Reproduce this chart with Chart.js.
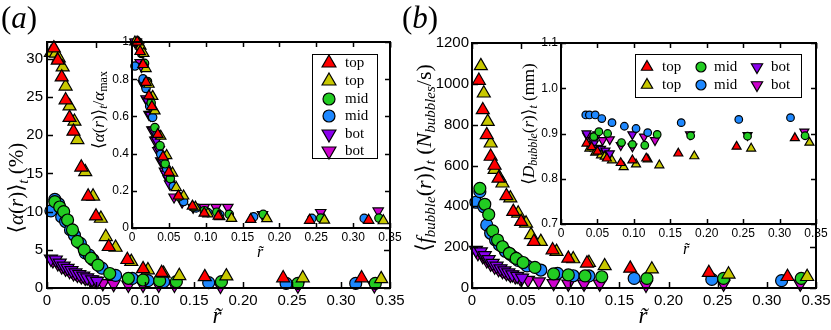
<!DOCTYPE html>
<html lang="en">
<head>
<meta charset="UTF-8">
<title>Void fraction and bubble frequency profiles</title>
<script src="https://cdn.jsdelivr.net/npm/chart.js@4"></script>
<style>
    body { margin: 0; background: #fff; }
    #wrap { position: relative; width: 831px; height: 330px; overflow: hidden; }
    canvas { position: absolute; }
</style>
</head>
<body>
<div id="wrap">
    <canvas id="mainA" width="410" height="330" style="left:0px;top:0px"></canvas>
    <canvas id="insetA" width="315" height="240" style="left:88px;top:30px"></canvas>
    <canvas id="mainB" width="436" height="330" style="left:395px;top:0px"></canvas>
    <canvas id="insetB" width="315" height="240" style="left:515px;top:30px"></canvas>
    <canvas id="overlay" width="831" height="330" style="left:0px;top:0px"></canvas>
</div>
<script>
// r~ positions and values, one set per series
const redX = [0.007, 0.011, 0.015, 0.019, 0.023, 0.027, 0.035, 0.042, 0.050, 0.063, 0.082, 0.098, 0.117, 0.161, 0.241, 0.321];
const redAlpha = [31.4, 29.8, 27.6, 24.6, 22.3, 20.5, 15.8, 12.0, 9.4, 5.4, 3.7, 2.5, 2.0, 1.45, 1.3, 1.3];
const redFreq = [1016, 872, 750, 644, 600, 537, 451, 374, 325, 227, 186, 145, 121, 96, 75, 55];

const oliveX = [0.004, 0.009, 0.012, 0.016, 0.019, 0.023, 0.028, 0.031, 0.039, 0.047, 0.055, 0.060, 0.070, 0.086, 0.103, 0.119, 0.135, 0.183, 0.261, 0.341];
const oliveAlpha = [30.8, 30.7, 30.1, 28.9, 26.4, 23.8, 21.8, 19.4, 15.2, 12.0, 9.1, 6.7, 5.3, 3.45, 2.35, 1.9, 1.6, 1.55, 1.3, 1.2];
const oliveFreq = [null, 1088, 954, 815, 709, 580, 540, 513, 440, 366, 317, 260, 227, 178, 142, 124, 108, 92, 67, 55];

const greenX = [0.008, 0.013, 0.017, 0.021, 0.026, 0.031, 0.038, 0.045, 0.052, 0.064, 0.083, 0.098, 0.115, 0.132, 0.178, 0.256, 0.335];
const greenAlpha = [11.3, 10.6, 10.0, 8.9, 7.6, 6.1, 5.0, 3.9, 3.0, 1.9, 1.27, 1.05, 0.96, 0.83, 0.83, 0.6, 0.6];
const greenFreq = [488, 410, 360, 280, 235, 202, 170, 145, 125, 101, 69, 64, 59, 55, 47, 47, 47];

const blueX = [0.004, 0.008, 0.012, 0.015, 0.019, 0.024, 0.028, 0.034, 0.039, 0.043, 0.047, 0.056, 0.070, 0.087, 0.103, 0.119, 0.165, 0.244, 0.315];
const blueAlpha = [10.1, 11.6, 11.0, 9.3, 8.7, 7.6, 6.9, 5.85, 4.6, 4.3, 3.7, 2.6, 1.65, 1.25, 0.96, 0.83, 0.7, 0.6, 0.6];
const blueFreq = [420, 472, 398, 309, 268, 235, 211, 180, 165, 150, 135, 108, 88, 72, 60, 59, 47, 42, 36];

const purpleX = [0.004, 0.009, 0.013, 0.017, 0.021, 0.025, 0.029, 0.033, 0.037, 0.041, 0.046, 0.051];
const purpleAlpha = [3.8, 3.7, 3.3, 2.9, 2.6, 2.3, 2.0, 1.8, 1.6, 1.35, 1.1, 0.9];
const purpleFreq = [186, 178, 160, 140, 122, 108, 95, 85, 75, 66, 58, 50];

const magentaX = [0.006, 0.011, 0.015, 0.019, 0.023, 0.027, 0.031, 0.035, 0.039, 0.044, 0.049, 0.057, 0.068, 0.083, 0.098, 0.114, 0.130, 0.177, 0.256, 0.334];
const magentaAlpha = [3.6, 3.2, 2.8, 2.5, 2.2, 1.9, 1.7, 1.5, 1.3, 1.1, 0.95, 0.6, 0.5, 0.4, 0.4, 0.4, 0.4, 0.26, 0.3, 0.33];
const magentaFreq = [170, 155, 135, 118, 104, 92, 82, 72, 64, 56, 48, 39, 31, 23, 20, 20, 20, 15, 20, 20];

// bubble diameter (inset b), only the outer points are shown there
const redDX = [0.035, 0.042, 0.050, 0.063, 0.082, 0.098, 0.117, 0.161, 0.241, 0.321];
const redD = [0.878, 0.870, 0.860, 0.845, 0.835, 0.841, 0.845, 0.856, 0.871, 0.890];
const oliveDX = [0.039, 0.047, 0.055, 0.060, 0.070, 0.086, 0.103, 0.119, 0.135, 0.183, 0.261, 0.341];
const oliveD = [0.867, 0.858, 0.852, 0.849, 0.841, 0.826, 0.832, 0.843, 0.830, 0.850, 0.867, 0.880];
const greenDX = [0.045, 0.052, 0.064, 0.083, 0.098, 0.115, 0.132, 0.178, 0.256, 0.335];
const greenD = [0.893, 0.904, 0.900, 0.880, 0.876, 0.874, 0.898, 0.895, 0.894, 0.895];
const blueDX = [0.034, 0.039, 0.047, 0.056, 0.070, 0.087, 0.103, 0.119, 0.165, 0.244, 0.315];
const blueD = [0.941, 0.941, 0.941, 0.933, 0.924, 0.916, 0.911, 0.902, 0.924, 0.931, 0.935];
const purpleDX = [0.035, 0.040, 0.045, 0.050, 0.055, 0.061, 0.067, 0.098];
const purpleD = [0.900, 0.872, 0.878, 0.868, 0.866, 0.862, 0.856, 0.898];
const magentaDX = [0.036, 0.044, 0.050, 0.057, 0.067, 0.082, 0.098, 0.114, 0.129, 0.177, 0.256, 0.334];
const magentaD = [0.895, 0.885, 0.898, 0.885, 0.887, 0.874, 0.871, 0.893, 0.885, 0.898, 0.896, 0.904];

const seriesNames = ['top', 'top', 'mid', 'mid', 'bot', 'bot'];

const xTicks = [0, 0.05, 0.1, 0.15, 0.2, 0.25, 0.3, 0.35];
const xTickLabels = ['0', '0.05', '0.10', '0.15', '0.20', '0.25', '0.30', '0.35'];
const alphaTicks = [0, 5, 10, 15, 20, 25, 30];
const alphaTickLabels = ['0', '5', '10', '15', '20', '25', '30'];
const normTicks = [0, 0.2, 0.4, 0.6, 0.8, 1];
const normTickLabels = ['0', '0.2', '0.4', '0.6', '0.8', '1'];
const freqTicks = [0, 200, 400, 600, 800, 1000, 1200];
const freqTickLabels = ['0', '200', '400', '600', '800', '1000', '1200'];
const diamTicks = [0.7, 0.8, 0.9, 1.0, 1.1];
const diamTickLabels = ['0.7', '0.8', '0.9', '1.0', '1.1'];

// styles
const styles = [
    { color: '#ff0000', shape: 'up' },
    { color: '#c8c800', shape: 'up' },
    { color: '#22cc22', shape: 'circle' },
    { color: '#1e88ff', shape: 'circle' },
    { color: '#8a00ee', shape: 'down' },
    { color: '#cc00cc', shape: 'down' }
];
const SANS = "'Liberation Sans', Arial, sans-serif";
const SERIF = "'Liberation Serif', 'DejaVu Serif', serif";

function pts(xs, ys) {
    return xs.map((x, i) => ({ x: x, y: ys[i] }));
}
function norm(ys) {
    const m = Math.max(...ys.filter(v => v != null));
    return ys.map(v => v / m);
}
function makeDatasets(list, circR, triR) {
    return list.map((d, i) => {
        const s = styles[i];
        return {
            label: seriesNames[i],
            data: pts(d[0], d[1]),
            showLine: false,
            clip: false,
            pointStyle: s.shape === 'circle' ? 'circle' : 'triangle',
            pointRotation: s.shape === 'down' ? 180 : 0,
            pointRadius: s.shape === 'circle' ? circR : triR,
            pointHoverRadius: s.shape === 'circle' ? circR : triR,
            pointBackgroundColor: s.color,
            pointBorderColor: '#000',
            pointBorderWidth: 1.2
        };
    });
}

// tick labels are painted on the overlay, the axis only fixes the layout
function axis(kind, min, max, ticks, size) {
    return {
        type: 'linear',
        min: min,
        max: max,
        grid: { display: false },
        border: { display: false },
        afterBuildTicks: a => { a.ticks = ticks.map(v => ({ value: v, label: '' })); },
        afterFit: a => { if (kind === 'x') a.height = size; else a.width = size; },
        ticks: { display: false, autoSkip: false }
    };
}

// rich text: parts are [text, kind]; kind r = roman, i = italic, s* = subscript
function drawRich(ctx, parts, cx, cy, size, rot) {
    const fontOf = k => (k.indexOf('i') >= 0 ? 'italic ' : '') + (k[0] === 's' ? Math.round(size * 0.7) : size) + 'px ' + SERIF;
    ctx.save();
    let total = 0;
    const widths = parts.map(p => {
        ctx.font = fontOf(p[1]);
        const w = ctx.measureText(p[0]).width;
        total += w;
        return w;
    });
    ctx.translate(cx, cy);
    ctx.rotate(rot);
    ctx.fillStyle = '#000';
    ctx.textBaseline = 'alphabetic';
    ctx.textAlign = 'left';
    let x = -total / 2;
    parts.forEach((p, i) => {
        ctx.font = fontOf(p[1]);
        ctx.fillText(p[0], x, p[1][0] === 's' ? size * 0.55 : size * 0.35);
        x += widths[i];
    });
    ctx.restore();
}

function marker(ctx, shape, x, y, r, color) {
    ctx.beginPath();
    if (shape === 'circle') {
        ctx.arc(x, y, r, 0, Math.PI * 2);
    } else {
        const s = shape === 'up' ? 1 : -1;
        for (let k = 0; k < 3; k++) {
            const a = k * 2 * Math.PI / 3;
            const px = x + Math.sin(a) * r, py = y - s * Math.cos(a) * r;
            if (k) ctx.lineTo(px, py); else ctx.moveTo(px, py);
        }
        ctx.closePath();
    }
    ctx.fillStyle = color;
    ctx.fill();
    ctx.lineWidth = 1.2;
    ctx.strokeStyle = '#000';
    ctx.stroke();
}

const tiltR = [['r\u0303', 'i']];
const decor = {
    mainA: {
        off: [0, 0], tick: 6, lw: 2, font: 15, xl: [xTicks, xTickLabels, 5], yl: [alphaTicks, alphaTickLabels, 4],
        titles: [
            { parts: [['\u27e8', 'r'], ['\u03b1', 'i'], ['(', 'r'], ['r', 'i'], [')\u27e9', 'r'], ['t', 'si'], [' (%)', 'r']], x: 16, y: 188, size: 21, rot: -Math.PI / 2 },
            { parts: tiltR, x: 217, y: 315, size: 23, rot: 0 },
            { parts: [['(', 'r'], ['a', 'i'], [')', 'r']], x: 19, y: 17, size: 31, rot: 0 }
        ]
    },
    insetA: {
        off: [88, 30], tick: 5, lw: 2, fill: true, font: 12, xl: [xTicks, xTickLabels, 4], yl: [normTicks, normTickLabels, 3],
        titles: [
            { parts: [['\u27e8', 'r'], ['\u03b1', 'i'], ['(', 'r'], ['r', 'i'], [')\u27e9', 'r'], ['t', 'si'], ['/', 'r'], ['\u03b1', 'i'], ['max', 'sr']], x: 98, y: 110, size: 17, rot: -Math.PI / 2 },
            { parts: tiltR, x: 260, y: 251, size: 16, rot: 0 }
        ],
        legend: { box: [312, 54, 65, 104], mx: [329], tx: [345], rows: [63, 81, 99, 116, 134, 151], cols: 1, circR: 6, triR: 8 }
    },
    mainB: {
        off: [395, 0], tick: 6, lw: 2, font: 15, xl: [xTicks, xTickLabels, 5], yl: [freqTicks, freqTickLabels, 3],
        titles: [
            { parts: [['\u27e8', 'r'], ['f', 'i'], ['bubble', 'si'], ['(', 'r'], ['r', 'i'], [')\u27e9', 'r'], ['t', 'si'], [' (', 'r'], ['N', 'i'], ['bubbles', 'si'], ['/s)', 'r']], x: 423, y: 158, size: 22, rot: -Math.PI / 2 },
            { parts: tiltR, x: 643, y: 315, size: 23, rot: 0 },
            { parts: [['(', 'r'], ['b', 'i'], [')', 'r']], x: 420, y: 17, size: 31, rot: 0 }
        ]
    },
    insetB: {
        off: [515, 30], tick: 5, lw: 2, fill: true, font: 12, xl: [xTicks, xTickLabels, 4], yl: [diamTicks, diamTickLabels, 3],
        titles: [
            { parts: [['\u27e8', 'r'], ['D', 'i'], ['bubble', 'si'], ['(', 'r'], ['r', 'i'], [')\u27e9', 'r'], ['t', 'si'], [' (mm)', 'r']], x: 528, y: 124, size: 17, rot: -Math.PI / 2 },
            { parts: tiltR, x: 686, y: 248, size: 16, rot: 0 }
        ],
        legend: { box: [635, 54, 166, 43], mx: [647, 701, 757], tx: [662, 714, 771], rows: [67, 85], cols: 3, circR: 5, triR: 6.5 }
    }
};

// white axes background for the insets, inward ticks and frame for every axes
const deco = {
    id: 'deco',
    beforeDraw(chart) {
        const c = decor[chart.canvas.id];
        if (!c.fill) return;
        const a = chart.chartArea, ctx = chart.ctx;
        ctx.save();
        ctx.fillStyle = '#fff';
        ctx.fillRect(a.left, a.top, a.right - a.left, a.bottom - a.top);
        ctx.restore();
    },
    afterDraw(chart) {
        const c = decor[chart.canvas.id];
        const a = chart.chartArea, ctx = chart.ctx;
        const xs = chart.scales.x, ys = chart.scales.y;
        ctx.save();
        ctx.strokeStyle = '#000';
        ctx.lineWidth = 1.5;
        ctx.beginPath();
        c.xl[0].forEach(v => {
            const p = Math.round(xs.getPixelForValue(v)) + 0.5;
            ctx.moveTo(p, a.bottom); ctx.lineTo(p, a.bottom - c.tick);
            ctx.moveTo(p, a.top); ctx.lineTo(p, a.top + c.tick);
        });
        c.yl[0].forEach(v => {
            const p = Math.round(ys.getPixelForValue(v)) + 0.5;
            ctx.moveTo(a.left, p); ctx.lineTo(a.left + c.tick, p);
            ctx.moveTo(a.right, p); ctx.lineTo(a.right - c.tick, p);
        });
        ctx.stroke();
        ctx.lineWidth = c.lw;
        ctx.strokeRect(a.left, a.top, a.right - a.left, a.bottom - a.top);
        ctx.restore();
    }
};

function makeChart(id, datasets, xAxis, yAxis, pad) {
    return new Chart(document.getElementById(id), {
        type: 'scatter',
        data: { datasets: datasets },
        options: {
            responsive: false,
            animation: false,
            devicePixelRatio: 1,
            events: [],
            layout: { padding: pad },
            plugins: { legend: { display: false }, tooltip: { enabled: false } },
            scales: { x: xAxis, y: yAxis }
        },
        plugins: [deco]
    });
}

// texts: titles, legends, then tick labels, all on the top canvas
function drawTexts(chart) {
    const c = decor[chart.canvas.id];
    const ctx = document.getElementById('overlay').getContext('2d');
    const a = chart.chartArea, xs = chart.scales.x, ys = chart.scales.y;
    const ox = c.off[0], oy = c.off[1];

    c.titles.forEach(t => drawRich(ctx, t.parts, t.x, t.y, t.size, t.rot));

    if (c.legend) {
        const L = c.legend;
        ctx.save();
        ctx.fillStyle = '#fff';
        ctx.fillRect(L.box[0], L.box[1], L.box[2], L.box[3]);
        ctx.lineWidth = 1;
        ctx.strokeStyle = '#000';
        ctx.strokeRect(L.box[0] + 0.5, L.box[1] + 0.5, L.box[2], L.box[3]);
        seriesNames.forEach((name, i) => {
            const col = L.cols === 1 ? 0 : Math.floor(i / 2);
            const row = L.cols === 1 ? i : i % 2;
            const s = styles[i];
            marker(ctx, s.shape, L.mx[col], L.rows[row], s.shape === 'circle' ? L.circR : L.triR, s.color);
            ctx.fillStyle = '#000';
            ctx.font = '15px ' + SERIF;
            ctx.textBaseline = 'middle';
            ctx.textAlign = 'left';
            ctx.fillText(name, L.tx[col], L.rows[row]);
        });
        ctx.restore();
    }

    ctx.save();
    ctx.font = c.font + 'px ' + SANS;
    ctx.fillStyle = '#000';
    ctx.textAlign = 'center';
    ctx.textBaseline = 'top';
    c.xl[0].forEach((v, i) => ctx.fillText(c.xl[1][i], ox + xs.getPixelForValue(v), oy + a.bottom + c.xl[2]));
    ctx.textAlign = 'right';
    ctx.textBaseline = 'middle';
    c.yl[0].forEach((v, i) => ctx.fillText(c.yl[1][i], ox + a.left - c.yl[2], oy + ys.getPixelForValue(v)));
    ctx.restore();
}

// panel (a): void fraction
const chartA = makeChart('mainA',
    makeDatasets([
        [redX, redAlpha], [oliveX, oliveAlpha], [greenX, greenAlpha],
        [blueX, blueAlpha], [purpleX, purpleAlpha], [magentaX, magentaAlpha]
    ], 6, 7.5),
    axis('x', 0, 0.35, xTicks, 42),
    axis('y', 0, 32.2, alphaTicks, 47),
    { top: 42, right: 20, left: 0, bottom: 0 });

const chartAi = makeChart('insetA',
    makeDatasets([
        [redX, norm(redAlpha)], [oliveX, norm(oliveAlpha)], [greenX, norm(greenAlpha)],
        [blueX, norm(blueAlpha)], [purpleX, norm(purpleAlpha)], [magentaX, norm(magentaAlpha)]
    ], 4.2, 6),
    axis('x', 0, 0.35, xTicks, 42),
    axis('y', 0, 1, normTicks, 44),
    { top: 12, right: 13, left: 0, bottom: 0 });

// panel (b): bubble frequency
const chartB = makeChart('mainB',
    makeDatasets([
        [redX, redFreq], [oliveX, oliveFreq], [greenX, greenFreq],
        [blueX, blueFreq], [purpleX, purpleFreq], [magentaX, magentaFreq]
    ], 6, 7.5),
    axis('x', 0, 0.35, xTicks, 42),
    axis('y', 0, 1200, freqTicks, 77),
    { top: 43, right: 15, left: 0, bottom: 0 });

const chartBi = makeChart('insetB',
    makeDatasets([
        [redDX, redD], [oliveDX, oliveD], [greenDX, greenD],
        [blueDX, blueD], [purpleDX, purpleD], [magentaDX, magentaD]
    ], 3.8, 5.2),
    axis('x', 0, 0.35, xTicks, 46),
    axis('y', 0.7, 1.1, diamTicks, 46),
    { top: 13, right: 14, left: 0, bottom: 0 });

[chartA, chartAi, chartB, chartBi].forEach(drawTexts);
</script>
</body>
</html>
